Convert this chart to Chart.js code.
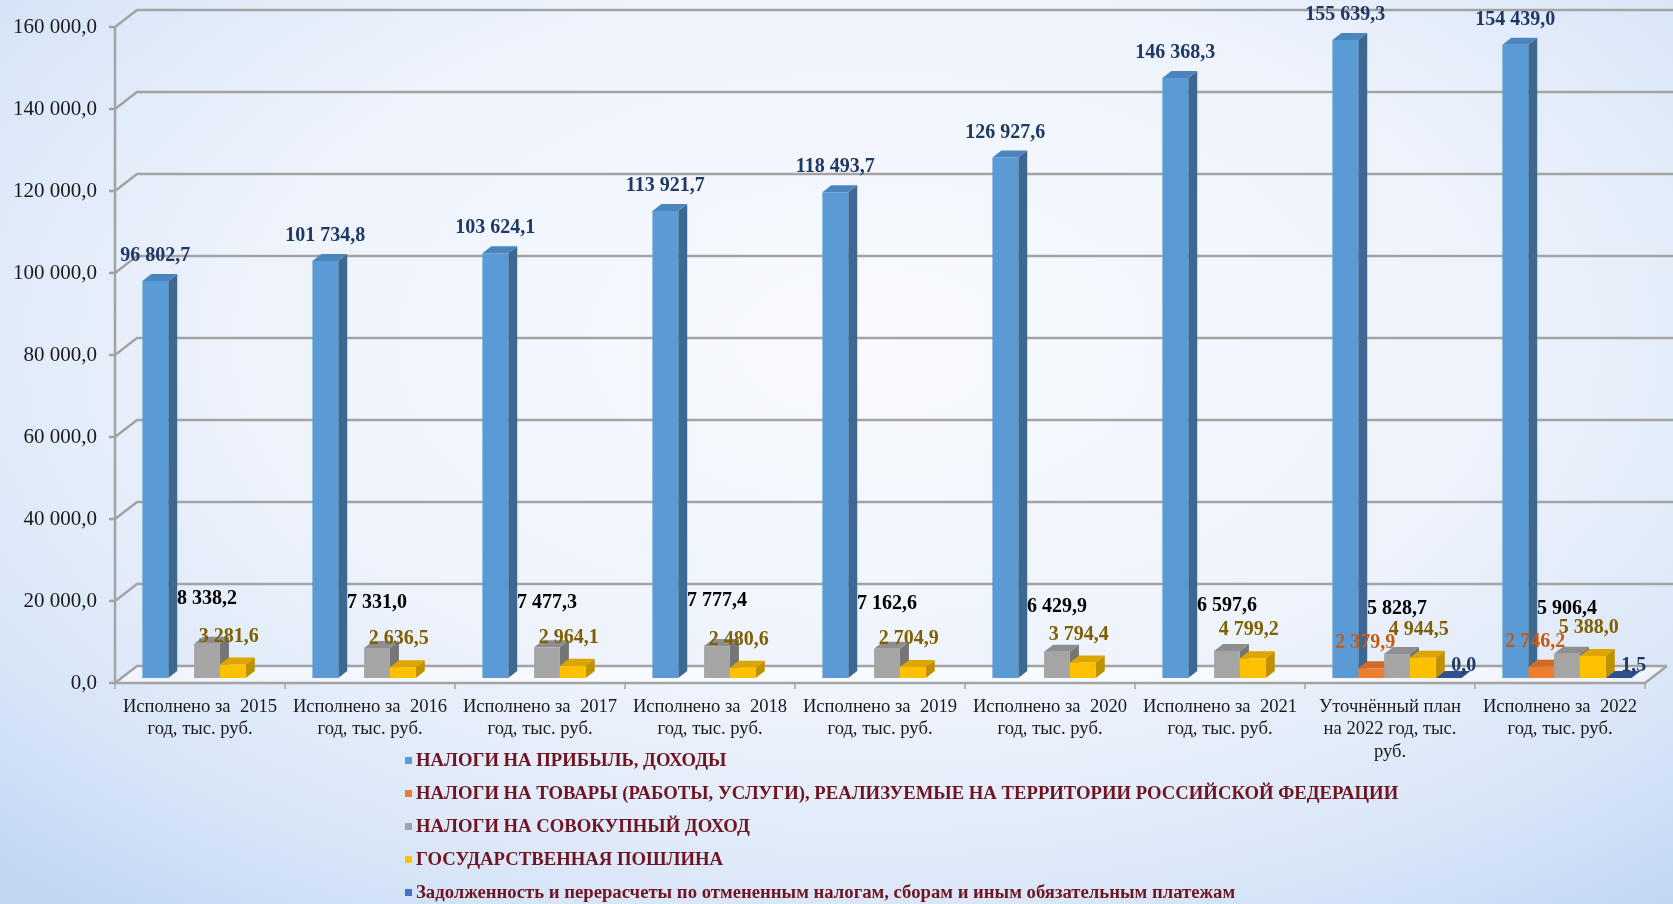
<!DOCTYPE html>
<html>
<head>
<meta charset="utf-8">
<script src="https://cdn.jsdelivr.net/npm/chart.js@4.4.0/dist/chart.umd.min.js"></script>
<style>
  html, body { margin: 0; padding: 0; }
  body {
    width: 1673px; height: 904px; overflow: hidden;
    background: radial-gradient(ellipse 75% 80% at 52% 38%, #f8fafe 0%, #eef3fc 50%, #d9e6f8 80%, #c2d7f4 100%);
  }
  #wrap { position: relative; width: 1673px; height: 904px; }
</style>
</head>
<body>
<div id="wrap"><canvas id="taxChart" width="1673" height="904"></canvas></div>
<script>
const categories = [
  ['Исполнено за  2015', 'год, тыс. руб.'],
  ['Исполнено за  2016', 'год, тыс. руб.'],
  ['Исполнено за  2017', 'год, тыс. руб.'],
  ['Исполнено за  2018', 'год, тыс. руб.'],
  ['Исполнено за  2019', 'год, тыс. руб.'],
  ['Исполнено за  2020', 'год, тыс. руб.'],
  ['Исполнено за  2021', 'год, тыс. руб.'],
  ['Уточнённый план', 'на 2022 год, тыс.', 'руб.'],
  ['Исполнено за  2022', 'год, тыс. руб.']
];
const seriesNames = [
  'НАЛОГИ НА ПРИБЫЛЬ, ДОХОДЫ',
  'НАЛОГИ НА ТОВАРЫ (РАБОТЫ, УСЛУГИ), РЕАЛИЗУЕМЫЕ НА ТЕРРИТОРИИ РОССИЙСКОЙ ФЕДЕРАЦИИ',
  'НАЛОГИ НА СОВОКУПНЫЙ ДОХОД',
  'ГОСУДАРСТВЕННАЯ ПОШЛИНА',
  'Задолженность и перерасчеты по отмененным налогам, сборам и иным обязательным платежам'
];
const profitTax = [96802.7, 101734.8, 103624.1, 113921.7, 118493.7, 126927.6, 146368.3, 155639.3, 154439.0];
const goodsTax  = [null, null, null, null, null, null, null, 2379.9, 2746.2];
const incomeTax = [8338.2, 7331.0, 7477.3, 7777.4, 7162.6, 6429.9, 6597.6, 5828.7, 5906.4];
const stateDuty = [3281.6, 2636.5, 2964.1, 2480.6, 2704.9, 3794.4, 4799.2, 4944.5, 5388.0];
const debtTax   = [null, null, null, null, null, null, null, 0.0, 1.5];
const yTicks = [0, 20000, 40000, 60000, 80000, 100000, 120000, 140000, 160000];

const DX = 9, DY = 7;      // depth of the fake 3d bars
// the bars sit mid-depth: front plane is (-7,+5) from them, back wall is (+15,-12)
const FX = -7, FY = 5, BX = 15, BY = -12;
const SERIF = '"Liberation Serif", "Times New Roman", serif';

function fmt(v) {
  const [i, d] = v.toFixed(1).split('.');
  return i.replace(/\B(?=(\d{3})+(?!\d))/g, ' ') + ',' + d;
}

const wall = {
  id: 'wall',
  beforeDatasetsDraw(chart) {
    const { ctx, chartArea: a, scales: { x, y } } = chart;
    ctx.save();
    // floor
    ctx.fillStyle = 'rgba(255,255,255,0.55)';
    ctx.beginPath();
    ctx.moveTo(a.left + FX, a.bottom + FY);
    ctx.lineTo(a.right + FX, a.bottom + FY);
    ctx.lineTo(a.right + BX, a.bottom + BY);
    ctx.lineTo(a.left + BX, a.bottom + BY);
    ctx.closePath();
    ctx.fill();

    ctx.strokeStyle = '#a3a3a3';
    ctx.lineWidth = 2.5;
    yTicks.forEach(v => {
      const py = y.getPixelForValue(v);
      ctx.beginPath();
      ctx.moveTo(a.left + FX - 6, py + FY);
      ctx.lineTo(a.left + FX, py + FY);
      ctx.lineTo(a.left + BX, py + BY);
      ctx.lineTo(v === 0 ? a.right + BX : chart.width, py + BY);
      ctx.stroke();
    });
    // front axis and floor edge
    ctx.beginPath();
    ctx.moveTo(a.left + FX, y.getPixelForValue(yTicks[yTicks.length - 1]) + FY);
    ctx.lineTo(a.left + FX, a.bottom + FY);
    ctx.lineTo(a.right + FX, a.bottom + FY);
    ctx.lineTo(a.right + BX, a.bottom + BY);
    ctx.stroke();
    ctx.lineWidth = 1.5;
    for (let i = 0; i <= categories.length; i++) {
      const px = x.getPixelForValue(i - 0.5) + FX;
      ctx.beginPath();
      ctx.moveTo(px, a.bottom + FY);
      ctx.lineTo(px, a.bottom + FY + 6);
      ctx.stroke();
    }
    ctx.restore();
  }
};

const bars3d = {
  id: 'bars3d',
  beforeDatasetsDraw(chart) {
    const { ctx } = chart;
    ctx.save();
    chart.data.datasets.forEach((ds, di) => {
      chart.getDatasetMeta(di).data.forEach((bar, i) => {
        if (ds.data[i] == null) return;
        const { x, y, base, width } = bar.getProps(['x', 'y', 'base', 'width'], true);
        const l = x - width / 2, r = x + width / 2;
        ctx.fillStyle = ds.sideColor;
        ctx.beginPath();
        ctx.moveTo(r, y);
        ctx.lineTo(r + DX, y - DY);
        ctx.lineTo(r + DX, base - DY);
        ctx.lineTo(r, base);
        ctx.closePath();
        ctx.fill();
        ctx.fillStyle = ds.topColor;
        ctx.beginPath();
        ctx.moveTo(l, y);
        ctx.lineTo(l + DX, y - DY);
        ctx.lineTo(r + DX, y - DY);
        ctx.lineTo(r, y);
        ctx.closePath();
        ctx.fill();
      });
    });
    ctx.restore();
  }
};

const valueLabels = {
  id: 'valueLabels',
  afterDatasetsDraw(chart) {
    const { ctx } = chart;
    ctx.save();
    ctx.font = 'bold 20px ' + SERIF;
    ctx.textAlign = 'center';
    ctx.textBaseline = 'middle';
    chart.data.datasets.forEach((ds, di) => {
      chart.getDatasetMeta(di).data.forEach((bar, i) => {
        const v = ds.data[i];
        if (v == null) return;
        ctx.fillStyle = ds.labelColor;
        ctx.fillText(fmt(v), bar.x + ds.labelDx, bar.y - ds.labelDy);
      });
    });
    ctx.restore();
  }
};

// category labels sit under the front edge of the floor
const categoryLabels = {
  id: 'categoryLabels',
  afterDraw(chart) {
    const { ctx, chartArea: a, scales: { x } } = chart;
    ctx.save();
    ctx.font = '18.6px ' + SERIF;
    ctx.fillStyle = '#1a1a1a';
    ctx.textAlign = 'center';
    ctx.textBaseline = 'middle';
    chart.data.labels.forEach((lines, i) => {
      const px = x.getPixelForValue(i) + FX;
      lines.forEach((t, k) => ctx.fillText(t, px, a.bottom + 29 + k * 22.5));
    });
    ctx.restore();
  }
};

const sideLegend = {
  id: 'sideLegend',
  afterDraw(chart) {
    const { ctx } = chart;
    ctx.save();
    ctx.font = 'bold 18.7px ' + SERIF;
    ctx.textBaseline = 'middle';
    chart.data.datasets.forEach((ds, i) => {
      const ly = 761 + i * 33;
      ctx.fillStyle = ds.backgroundColor;
      ctx.fillRect(405, ly - 4, 7, 7);
      ctx.fillStyle = '#6f1420';
      ctx.fillText(ds.label, 416, ly);
    });
    ctx.restore();
  }
};

const ctx = document.getElementById('taxChart').getContext('2d');
new Chart(ctx, {
  type: 'bar',
  data: {
    labels: categories,
    datasets: [
      { label: seriesNames[0], data: profitTax, backgroundColor: '#5b9bd5', sideColor: '#3c6891', topColor: '#4a85bd', labelColor: '#1f3864', labelDx: 0, labelDy: 25 },
      { label: seriesNames[1], data: goodsTax, backgroundColor: '#ed7d31', sideColor: '#b0571c', topColor: '#d06a25', labelColor: '#c55a11', labelDx: -6, labelDy: 25 },
      { label: seriesNames[2], data: incomeTax, backgroundColor: '#a5a5a5', sideColor: '#757575', topColor: '#8e8e8e', labelColor: '#000000', labelDx: 0, labelDy: 45 },
      { label: seriesNames[3], data: stateDuty, backgroundColor: '#ffc000', sideColor: '#bf9000', topColor: '#dca500', labelColor: '#7f6000', labelDx: -4, labelDy: 28 },
      { label: seriesNames[4], data: debtTax, backgroundColor: '#4472c4', sideColor: '#2f528f', topColor: '#2f528f', labelColor: '#1f3864', labelDx: 15, labelDy: 12 }
    ]
  },
  options: {
    responsive: false,
    animation: false,
    events: [],
    categoryPercentage: 0.76,
    barPercentage: 1.0,
    layout: { padding: { top: 22, right: 21, bottom: 226, left: 0 } },
    plugins: {
      legend: { display: false },
      title: { display: false },
      tooltip: { enabled: false }
    },
    scales: {
      x: {
        afterFit: s => { s.height = 0; },
        grid: { display: false },
        border: { display: false },
        ticks: { display: false }
      },
      y: {
        min: 0,
        max: 160000,
        afterFit: s => { s.width = 122; s.paddingTop = 0; s.paddingBottom = 0; },
        afterBuildTicks: s => { s.ticks = yTicks.map(v => ({ value: v })); },
        grid: { display: false },
        border: { display: false },
        ticks: {
          padding: 17,
          labelOffset: 5,
          color: '#1a1a1a',
          font: { family: SERIF, size: 21 },
          callback: v => fmt(v)
        }
      }
    }
  },
  plugins: [wall, bars3d, valueLabels, categoryLabels, sideLegend]
});
</script>
</body>
</html>
